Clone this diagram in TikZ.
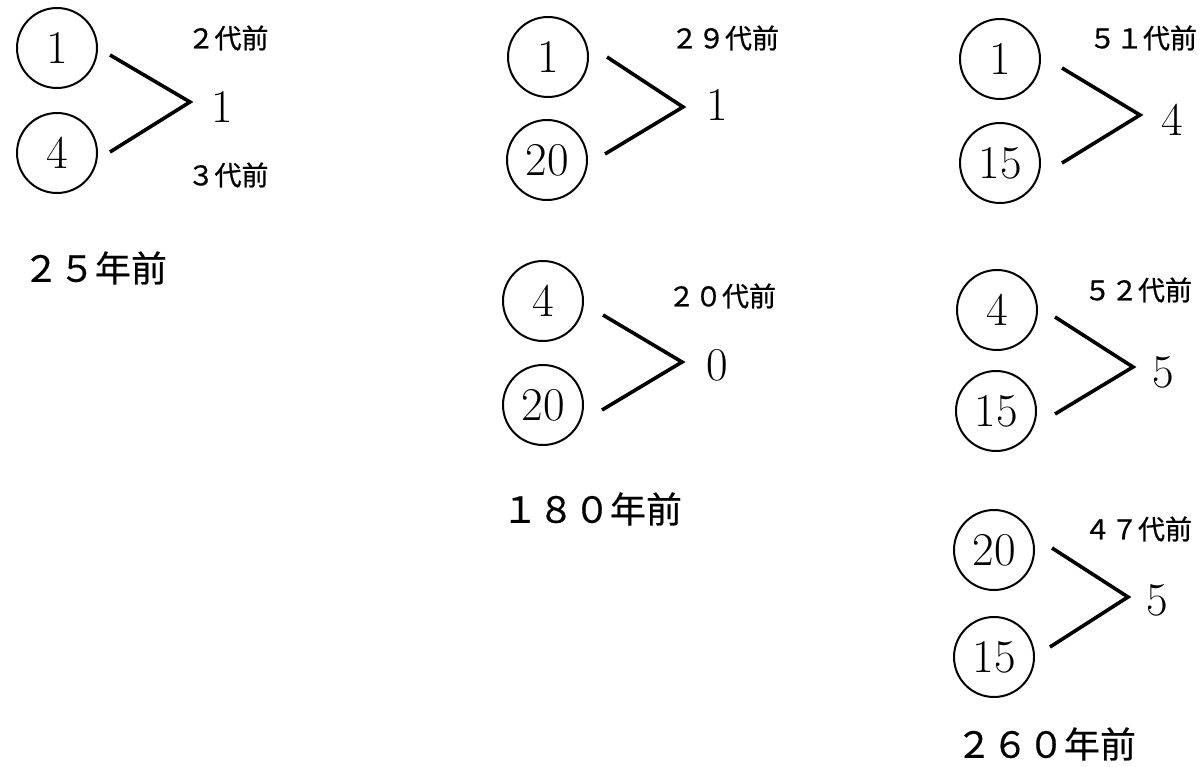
\documentclass[tikz,border=0pt]{standalone}
\usepackage{fontspec}
\newfontfamily\jpfont[FakeBold=0.7]{Noto Sans CJK JP}
\newfontfamily\jpbig[FakeBold=0.4]{Noto Sans CJK JP}
\begin{document}
\begin{tikzpicture}[x=1pt,y=-1pt,
  gen/.style={draw,circle,line width=2pt,minimum size=80pt,inner sep=0pt,font=\fontsize{47}{47}\selectfont},
  res/.style={inner sep=0pt,font=\fontsize{47}{47}\selectfont},
  small/.style={inner sep=0pt,font=\jpfont\fontsize{27}{27}\selectfont},
  big/.style={inner sep=0pt,font=\jpbig\fontsize{36}{36}\selectfont},
  link/.style={line width=3.6pt}]
\useasboundingbox (0,0) rectangle (1204,767);
% Group A
\node[gen] (a1) at (57,48) {1};
\node[gen] (a2) at (57,153) {4};
\coordinate (a1e) at (110,55);
\coordinate (av) at (190,102);
\coordinate (a2e) at (110,152);
\draw[link] (a1e) -- (av) -- (a2e);
\node[res] (ar) at (222,107) {1};
\node[small] (al1) at (228,38) {２代前};
\node[small] (al2) at (228,175) {３代前};
\node[big] (ay) at (95,268) {２５年前};
% Group B
\node[gen] (b1) at (548,57) {1};
\node[gen] (b2) at (547,160) {20};
\coordinate (b1e) at (607,57);
\coordinate (bv) at (683,107);
\coordinate (b2e) at (605,154);
\draw[link] (b1e) -- (bv) -- (b2e);
\node[res] (br) at (717,105) {1};
\node[small] (bl) at (725,38) {２９代前};
% Group C
\node[gen] (c1) at (543,301) {4};
\node[gen] (c2) at (543,405) {20};
\coordinate (c1e) at (603,315);
\coordinate (cv) at (682,362);
\coordinate (c2e) at (602,410);
\draw[link] (c1e) -- (cv) -- (c2e);
\node[res] (cr) at (717,365) {0};
\node[small] (cl) at (722,296) {２０代前};
\node[big] (cy) at (592,509) {１８０年前};
% Group D
\node[gen] (d1) at (1000,59) {1};
\node[gen] (d2) at (1000,163) {15};
\coordinate (d1e) at (1062,68);
\coordinate (dv) at (1140,115);
\coordinate (d2e) at (1062,163);
\draw[link] (d1e) -- (dv) -- (d2e);
\node[res] (dr) at (1172,120) {4};
\node[small] (dl) at (1143,38) {５１代前};
% Group E
\node[gen] (e1) at (997,310) {4};
\node[gen] (e2) at (996,411) {15};
\coordinate (e1e) at (1055,317);
\coordinate (ev) at (1133,367);
\coordinate (e2e) at (1055,414);
\draw[link] (e1e) -- (ev) -- (e2e);
\node[res] (er) at (1163,372) {5};
\node[small] (el) at (1138,290) {５２代前};
% Group F
\node[gen] (f1) at (994,550) {20};
\node[gen] (f2) at (994,657) {15};
\coordinate (f1e) at (1052,548);
\coordinate (fv) at (1128,597);
\coordinate (f2e) at (1050,647);
\draw[link] (f1e) -- (fv) -- (f2e);
\node[res] (fr) at (1157,600) {5};
\node[small] (fl) at (1138,529) {４７代前};
\node[big] (fy) at (1046,744) {２６０年前};
\end{tikzpicture}
\end{document}
